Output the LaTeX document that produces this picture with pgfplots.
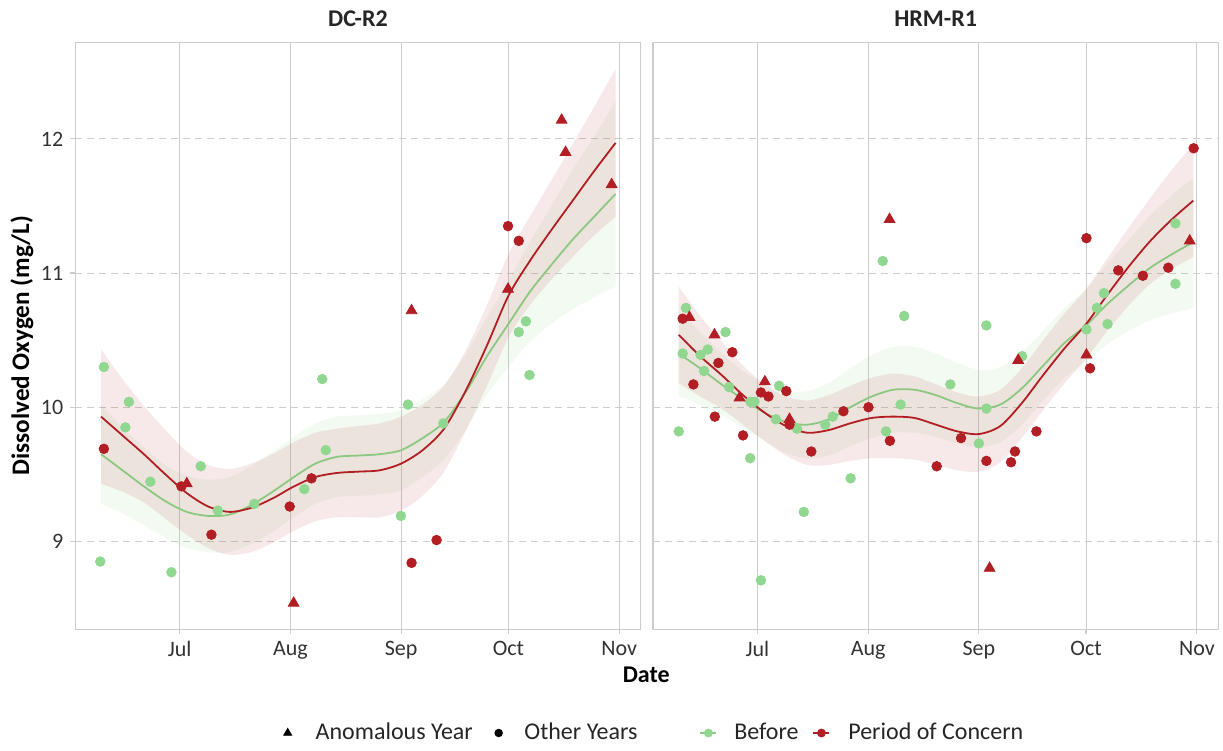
\documentclass[border=0pt]{standalone}
\usepackage{pgfplots}
\pgfplotsset{compat=1.18}
\usepackage{pgfplotstable}
\usepgfplotslibrary{fillbetween}
\usepackage{fontspec}
\setmainfont{Carlito}
\definecolor{cred}{RGB}{178,30,35}
\definecolor{cgreen}{RGB}{144,215,144}
\definecolor{cgline}{RGB}{140,200,130}
\definecolor{gridc}{RGB}{205,205,205}

% fitted smooths: day, red line, red lo, red hi, green line, green lo, green hi
\pgfplotstableread{
d rl rlo rhi gl glo ghi
160 9.93 9.43 10.43 9.65 9.28 10.02
166 9.79 9.37 10.21 9.53 9.21 9.85
172 9.65 9.29 10.01 9.41 9.12 9.70
178 9.50 9.17 9.83 9.30 9.03 9.57
184 9.36 9.05 9.67 9.22 8.95 9.49
190 9.26 8.95 9.57 9.19 8.92 9.46
196 9.22 8.90 9.54 9.20 8.92 9.48
202 9.25 8.92 9.58 9.27 8.98 9.56
208 9.32 8.99 9.65 9.37 9.07 9.67
214 9.41 9.08 9.74 9.48 9.18 9.78
220 9.48 9.15 9.81 9.58 9.28 9.88
226 9.51 9.18 9.84 9.63 9.33 9.93
232 9.52 9.18 9.86 9.64 9.34 9.94
238 9.53 9.18 9.88 9.65 9.35 9.95
244 9.58 9.23 9.93 9.68 9.38 9.98
250 9.68 9.34 10.02 9.77 9.48 10.06
256 9.84 9.52 10.16 9.89 9.61 10.17
262 10.12 9.82 10.42 10.11 9.83 10.39
268 10.46 10.16 10.76 10.38 10.09 10.67
274 10.83 10.52 11.14 10.62 10.30 10.94
280 11.09 10.76 11.42 10.86 10.49 11.23
286 11.32 10.95 11.69 11.06 10.62 11.50
292 11.54 11.12 11.96 11.25 10.73 11.77
298 11.76 11.28 12.24 11.42 10.82 12.02
304 11.97 11.42 12.52 11.59 10.90 12.28
}\leftfit

\pgfplotstableread{
d rl rlo rhi gl glo ghi
160 10.54 10.18 10.90 10.40 10.08 10.72
166 10.38 10.08 10.68 10.29 10.02 10.56
172 10.24 9.99 10.49 10.17 9.94 10.40
178 10.09 9.87 10.31 10.06 9.85 10.27
184 9.96 9.75 10.17 9.96 9.75 10.17
190 9.86 9.64 10.08 9.89 9.66 10.12
196 9.81 9.57 10.05 9.87 9.62 10.12
202 9.83 9.57 10.09 9.91 9.64 10.18
208 9.88 9.60 10.16 10.00 9.71 10.29
214 9.92 9.62 10.22 10.08 9.77 10.39
220 9.93 9.62 10.25 10.13 9.81 10.45
226 9.92 9.61 10.23 10.13 9.81 10.45
232 9.87 9.57 10.17 10.09 9.78 10.40
238 9.82 9.53 10.11 10.03 9.73 10.33
244 9.80 9.52 10.08 9.99 9.70 10.28
250 9.86 9.59 10.13 10.02 9.74 10.30
256 10.03 9.77 10.29 10.14 9.87 10.41
262 10.24 9.98 10.50 10.31 10.05 10.57
268 10.44 10.18 10.70 10.48 10.22 10.74
274 10.62 10.36 10.88 10.61 10.34 10.88
280 10.84 10.57 11.11 10.77 10.47 11.07
286 11.05 10.76 11.34 10.91 10.57 11.25
292 11.24 10.92 11.56 11.04 10.65 11.43
298 11.40 11.03 11.77 11.14 10.70 11.58
304 11.54 11.12 11.96 11.23 10.74 11.71
}\rightfit

% DC-R2 points
\pgfplotstableread{
d v
160.8 10.30
167.8 10.04
166.8 9.85
173.8 9.445
159.8 8.85
179.7 8.77
187.9 9.56
192.7 9.23
202.9 9.28
216.9 9.39
221.9 10.21
222.9 9.68
243.9 9.19
245.9 10.02
255.8 9.88
276.9 10.56
278.9 10.64
279.9 10.24
}\LG
\pgfplotstableread{
d v
160.8 9.69
182.5 9.41
190.9 9.05
212.8 9.26
218.9 9.47
246.9 8.84
253.9 9.01
273.9 11.35
276.9 11.24
}\LRC
\pgfplotstableread{
d v
184.0 9.43
213.9 8.54
246.9 10.72
273.9 10.88
288.9 12.14
290.0 11.90
302.9 11.66
}\LRT

% HRM-R1 points
\pgfplotstableread{
d v
161.1 10.40
166.1 10.39
168.1 10.43
167.1 10.27
173.1 10.56
174.1 10.15
180.1 10.04
181.2 10.04
160.0 9.82
180.0 9.62
183.0 8.71
188.1 10.16
187.2 9.91
193.1 9.84
195.0 9.22
201.0 9.87
203.1 9.93
208.1 9.47
218.0 9.82
222.1 10.02
236.0 10.17
244.0 9.73
246.1 9.99
256.1 10.38
162.0 10.74
217.1 11.09
223.1 10.68
246.1 10.61
274.1 10.58
277.0 10.74
279.0 10.85
280.0 10.62
299.0 11.37
299.0 10.92
}\RG
\pgfplotstableread{
d v
161.1 10.66
175.0 10.41
171.1 10.33
164.1 10.17
170.1 9.93
178.0 9.79
183.0 10.11
185.1 10.08
190.1 10.12
191.0 9.87
197.1 9.67
206.1 9.97
213.1 10.00
219.1 9.75
232.2 9.56
239.0 9.77
246.1 9.60
253.0 9.59
254.1 9.67
260.1 9.82
275.1 10.29
274.1 11.26
283.0 11.02
289.9 10.98
297.0 11.04
304.1 11.93
}\RRC
\pgfplotstableread{
d v
163.0 10.67
170.0 10.54
177.0 10.07
184.1 10.19
191.0 9.91
247.0 8.80
255.0 10.35
274.1 10.39
219.0 11.40
303.0 11.24
}\RRT

\pgfplotsset{
  panel/.style={
    scale only axis, width=282.65pt, height=293.5pt,
    xmin=152.8, xmax=311, ymin=8.345, ymax=12.72,
    xtick={182,213,244,274,305}, xticklabels={Jul,Aug,Sep,Oct,Nov},
    ytick={9,10,11,12},
    xmajorgrids, ymajorgrids,
    x grid style={gridc, line width=0.55pt},
    y grid style={gridc, line width=0.55pt, dash pattern=on 3.5pt off 2.5pt},
    axis line style={gridc, line width=0.6pt},
    tick align=outside, tick pos=left,
    major tick length=2.5pt,
    tick style={gridc, line width=0.6pt},
    ticklabel style={font=\fontsize{11}{13}\selectfont, text=black!80},
    /pgf/number format/assume math mode=true,
    title style={font=\bfseries\fontsize{12}{14}\selectfont, text=black!85, at={(axis description cs:0.5,1.019)}, anchor=center},
    clip=false,
  },
  pts/.style={only marks, mark=*, mark size=2.4pt, forget plot},
  tri/.style={only marks, mark=triangle*, mark size=3.1pt, forget plot},
}

\begin{document}
\begin{tikzpicture}
\path (-37.65pt,-58.85pt) rectangle (573.85pt,314.65pt);

\begin{axis}[panel, title={DC-R2},
  ylabel={Dissolved Oxygen (mg/L)},
  ylabel style={font=\bfseries\fontsize{12.6}{14}\selectfont, text=black, at={(axis description cs:-0.0943,0.483)}, anchor=center},
  legend style={draw=none, fill=none, at={(axis description cs:1.0264,-0.1767)}, anchor=center,
    legend columns=4, font=\fontsize{12}{14}\selectfont, text=black!85,
    /tikz/column 1/.style={column sep=10pt},
    /tikz/column 2/.style={column sep=9pt},
    /tikz/column 3/.style={column sep=9pt},
    /tikz/column 4/.style={column sep=29pt},
    /tikz/column 5/.style={column sep=6.5pt},
    /tikz/column 6/.style={column sep=5pt},
    /tikz/column 7/.style={column sep=7pt}},
  legend cell align=left]
\addlegendimage{only marks, mark=triangle*, black, mark size=2.3pt}
\addlegendentry{Anomalous Year}
\addlegendimage{only marks, mark=*, black, mark size=1.9pt}
\addlegendentry{Other Years}
\addlegendimage{legend image code/.code={\draw[cgline, line width=0.9pt] (0pt,0pt)--(8pt,0pt); \fill[cgreen] (4pt,0pt) circle (2pt);}}
\addlegendentry{Before}
\addlegendimage{legend image code/.code={\draw[cred, line width=0.9pt] (0pt,0pt)--(8pt,0pt); \fill[cred] (4pt,0pt) circle (2pt);}}
\addlegendentry{Period of Concern}

\addplot[draw=none, smooth, name path=glo, forget plot] table[x=d, y=glo] {\leftfit};
\addplot[draw=none, smooth, name path=ghi, forget plot] table[x=d, y=ghi] {\leftfit};
\addplot[fill=cgreen, fill opacity=0.12, draw=none, forget plot] fill between[of=glo and ghi];
\addplot[draw=none, smooth, name path=rlo, forget plot] table[x=d, y=rlo] {\leftfit};
\addplot[draw=none, smooth, name path=rhi, forget plot] table[x=d, y=rhi] {\leftfit};
\addplot[fill=cred, fill opacity=0.1, draw=none, forget plot] fill between[of=rlo and rhi];
\addplot[cgline, line width=0.9pt, smooth, forget plot] table[x=d, y=gl] {\leftfit};
\addplot[cred, line width=0.9pt, smooth, forget plot] table[x=d, y=rl] {\leftfit};
\addplot[pts, cgreen] table[x=d, y=v] {\LG};
\addplot[pts, cred] table[x=d, y=v] {\LRC};
\addplot[tri, cred] table[x=d, y=v] {\LRT};
\end{axis}

\begin{axis}[panel, at={(288.85pt,0pt)}, title={HRM-R1}, yticklabels={}, y tick style={draw=none}]
\addplot[draw=none, smooth, name path=glo, forget plot] table[x=d, y=glo] {\rightfit};
\addplot[draw=none, smooth, name path=ghi, forget plot] table[x=d, y=ghi] {\rightfit};
\addplot[fill=cgreen, fill opacity=0.12, draw=none, forget plot] fill between[of=glo and ghi];
\addplot[draw=none, smooth, name path=rlo, forget plot] table[x=d, y=rlo] {\rightfit};
\addplot[draw=none, smooth, name path=rhi, forget plot] table[x=d, y=rhi] {\rightfit};
\addplot[fill=cred, fill opacity=0.1, draw=none, forget plot] fill between[of=rlo and rhi];
\addplot[cgline, line width=0.9pt, smooth, forget plot] table[x=d, y=gl] {\rightfit};
\addplot[cred, line width=0.9pt, smooth, forget plot] table[x=d, y=rl] {\rightfit};
\addplot[pts, cgreen] table[x=d, y=v] {\RG};
\addplot[pts, cred] table[x=d, y=v] {\RRC};
\addplot[tri, cred] table[x=d, y=v] {\RRT};
\end{axis}

\node[font=\bfseries\fontsize{12}{14}\selectfont, text=black] at (285.5pt,-22.85pt) {Date};
\end{tikzpicture}
\end{document}
